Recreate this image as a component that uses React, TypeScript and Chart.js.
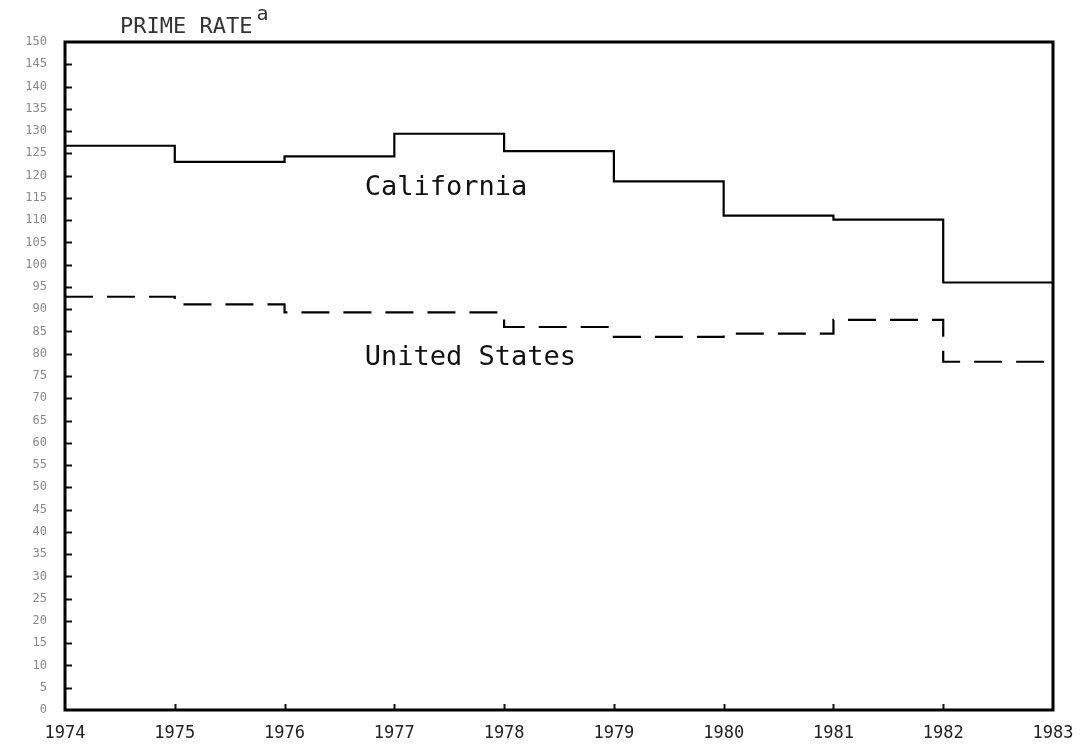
import React, { useEffect, useRef } from "react";
import { Chart, registerables } from "chart.js";

Chart.register(...registerables);

// ---- data ----
const years = [1974, 1975, 1976, 1977, 1978, 1979, 1980, 1981, 1982, 1983];
const californiaRate = [126.7, 123.1, 124.3, 129.4, 125.5, 118.7, 111.0, 110.1, 96.0];
const usRate = [92.8, 91.1, 89.3, 89.3, 86.0, 83.8, 84.5, 87.6, 78.2];
const seriesNames = ["California", "United States"];
const yMin = 0;
const yMax = 150;
const yStep = 5;
const titleText = "PRIME RATE";
const titleNote = "a";

// stepped series: value holds from its year to the next; repeat last value at the final year
const toSteps = (vals: number[]) => [
  ...vals.map((v, i) => ({ x: years[i], y: v })),
  { x: years[years.length - 1], y: vals[vals.length - 1] },
];

const MONO = "'DejaVu Sans Mono', 'Liberation Mono', monospace";

const decor = {
  id: "decor",
  afterDraw(chart: any) {
    const { ctx, chartArea, scales } = chart;
    const { left, right, top, bottom } = chartArea;
    const x = scales.x;
    const y = scales.y;
    ctx.save();
    // inward ticks on the y axis
    ctx.strokeStyle = "#111";
    ctx.lineWidth = 2;
    for (let v = yMin + yStep; v < yMax; v += yStep) {
      const py = Math.round(y.getPixelForValue(v)) + 0.5;
      ctx.beginPath();
      ctx.moveTo(left, py);
      ctx.lineTo(left + 7, py);
      ctx.stroke();
    }
    // inward ticks on the x axis
    for (let i = 1; i < years.length - 1; i++) {
      const px = Math.round(x.getPixelForValue(years[i])) + 0.5;
      ctx.beginPath();
      ctx.moveTo(px, bottom);
      ctx.lineTo(px, bottom - 6);
      ctx.stroke();
    }
    // frame
    ctx.lineWidth = 3;
    ctx.strokeStyle = "#000";
    ctx.strokeRect(left, top, right - left, bottom - top);

    // series labels
    ctx.fillStyle = "#111";
    ctx.font = `27px ${MONO}`;
    ctx.textAlign = "left";
    ctx.textBaseline = "middle";
    ctx.fillText(seriesNames[0], x.getPixelForValue(1976.73), y.getPixelForValue(117.3));
    ctx.fillText(seriesNames[1], x.getPixelForValue(1976.73), y.getPixelForValue(79));

    // title
    ctx.fillStyle = "#333";
    ctx.font = `22px ${MONO}`;
    ctx.textBaseline = "alphabetic";
    ctx.fillText(titleText, left + 55, top - 9);
    const w = ctx.measureText(titleText).width;
    ctx.font = `20px ${MONO}`;
    ctx.fillText(titleNote, left + 55 + w + 4, top - 22);
    ctx.restore();
  },
};

export default function App() {
  const ref = useRef<HTMLCanvasElement | null>(null);
  useEffect(() => {
    if (!ref.current) return;
    const chart = new Chart(ref.current, {
      type: "line",
      data: {
        datasets: [
          {
            label: seriesNames[0],
            data: toSteps(californiaRate),
            stepped: "before",
            borderColor: "#000",
            borderWidth: 2.2,
            pointRadius: 0,
            fill: false,
          },
          {
            label: seriesNames[1],
            data: toSteps(usRate),
            stepped: "before",
            borderColor: "#000",
            borderWidth: 2.2,
            borderDash: [28, 14],
            pointRadius: 0,
            fill: false,
          },
        ],
      },
      options: {
        responsive: false,
        animation: false,
        layout: { padding: { top: 42, right: 28, left: 0, bottom: 0 } },
        plugins: { legend: { display: false }, tooltip: { enabled: false }, title: { display: false } },
        scales: {
          x: {
            type: "linear",
            min: years[0],
            max: years[years.length - 1],
            afterBuildTicks: (s: any) => {
              s.ticks = years.map((v) => ({ value: v }));
            },
            afterFit: (s: any) => {
              s.height = 36;
            },
            grid: { display: false },
            border: { display: false },
            ticks: {
              callback: (v: any) => String(v),
              color: "#222",
              font: { family: MONO, size: 17 },
              padding: 5,
              maxRotation: 0,
              autoSkip: false,
            },
          },
          y: {
            min: yMin,
            max: yMax,
            afterFit: (s: any) => {
              s.width = 65;
            },
            grid: { display: false },
            border: { display: false },
            ticks: {
              stepSize: yStep,
              autoSkip: false,
              color: "#888",
              font: { family: MONO, size: 12 },
              padding: 10,
            },
          },
        },
      },
      plugins: [decor],
    });
    return () => chart.destroy();
  }, []);
  return (
    <div style={{ position: "fixed", left: 0, top: 0, width: 1081, height: 746, background: "#fff" }}>
      <canvas ref={ref} width={1081} height={746} />
    </div>
  );
}
